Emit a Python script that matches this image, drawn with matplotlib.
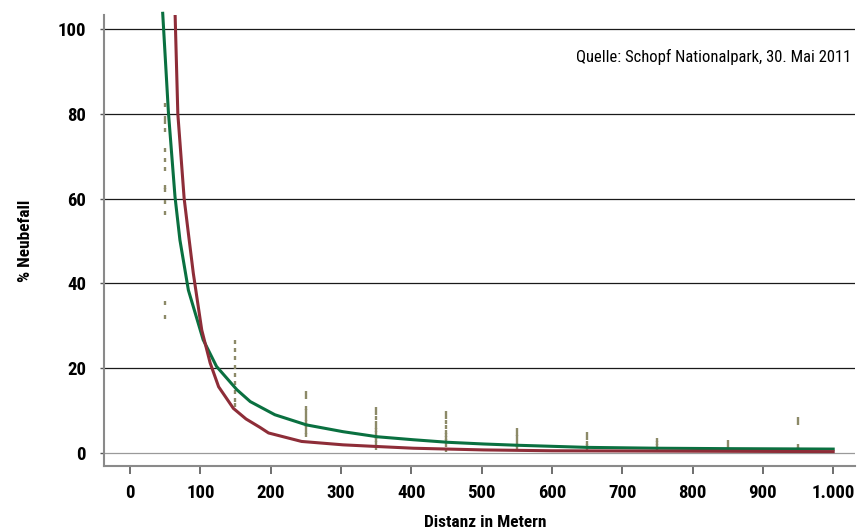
import matplotlib.pyplot as plt

# scatter measurements: distance classes and % new infestation
dist_50 = [82, 79, 78.1, 76.2, 71.5, 69.1, 67, 62.7, 62, 59.2, 56.6, 35.4, 32.1]
dist_150 = [26.2, 24.3, 22.4, 20.3, 18.4, 16.5, 14.4, 12.5, 11.3]
dist_250 = [14.2, 13.2, 10.6, 9.8, 9.0, 8.1, 7.3, 6.6, 5.9, 5.0, 4.2]
dist_350 = [10.3, 9.4, 8.2, 7.0, 6.2, 5.4, 4.6, 3.8, 3.0, 2.3, 1.1]
dist_450 = [9.4, 8.4, 7.4, 6.2, 5.0, 4.2, 3.5, 2.7, 1.9, 0.7]
dist_550 = [5.3, 4.5, 3.7, 2.7, 1.9, 1.1]
dist_650 = [4.4, 3.5, 2.4, 1.6, 0.9]
dist_750 = [3.1, 2.3, 1.6, 0.9]
dist_850 = [2.5, 1.7, 0.9]
dist_950 = [8.0, 7.0, 1.6, 0.9]
classes = [50, 150, 250, 350, 450, 550, 650, 750, 850, 950]
measured = [dist_50, dist_150, dist_250, dist_350, dist_450,
            dist_550, dist_650, dist_750, dist_850, dist_950]

# fitted curves
green_x = [46.5, 54.6, 64, 71, 83, 104, 123, 152, 171, 206, 251, 303, 352, 403, 452, 503, 551, 650, 750, 850, 1000]
green_y = [103.7, 80.4, 60.4, 50.2, 38.4, 26.7, 20.4, 14.9, 12.1, 9.0, 6.6, 5.0, 3.8, 3.1, 2.5, 2.1, 1.8, 1.3, 1.1, 1.0, 0.9]
red_x = [64, 68, 77, 83, 90, 102, 114, 126, 147, 165, 185, 197, 244, 303, 352, 403, 503, 600, 800, 1000]
red_y = [104.2, 80, 60, 51.8, 42.4, 29, 21.2, 15.6, 10.5, 8.0, 6.0, 4.7, 2.7, 1.9, 1.5, 1.1, 0.7, 0.5, 0.4, 0.3]

xticks = [0, 100, 200, 300, 400, 500, 600, 700, 800, 900, 1000]
xticklabels = ['0', '100', '200', '300', '400', '500', '600', '700', '800', '900', '1.000']
yticks = [0, 20, 40, 60, 80, 100]

plt.rcParams['font.family'] = ['Roboto Condensed', 'DejaVu Sans']

fig = plt.figure(figsize=(8.58, 5.32), dpi=100)
ax = fig.add_axes([0.1212, 0.124, 0.8753, 0.8478])

for yt in yticks:
    ax.axhline(yt, color='#9a9a9a' if yt == 0 else '#1a1a1a', lw=0.9, zorder=1)

for cx, vals in zip(classes, measured):
    ax.plot([cx] * len(vals), vals, ls='none', marker='|', ms=2.9, mew=1.7,
            color='#8c8a68', zorder=2)

ax.plot(green_x, green_y, color='#0a7040', lw=2.2, zorder=3, clip_on=False)
ax.plot(red_x, red_y, color='#8e2d38', lw=2.2, zorder=3)

ax.set_xlim(-37, 1031)
ax.set_ylim(-3.1, 103.3)
ax.set_xticks(xticks)
ax.set_xticklabels(xticklabels)
ax.set_yticks(yticks)

for s in ['top', 'right']:
    ax.spines[s].set_visible(False)
for s in ['left', 'bottom']:
    ax.spines[s].set_color('#8a8a8a')
    ax.spines[s].set_linewidth(1.5)

ax.tick_params(axis='x', direction='out', length=6, width=1.2, color='#555555', pad=7)
ax.tick_params(axis='y', direction='out', length=3, width=1.0, color='#555555', pad=10)
for lab in ax.get_xticklabels() + ax.get_yticklabels():
    lab.set_fontsize(13.5)
    lab.set_fontweight('bold')

ax.set_ylabel('% Neubefall', fontsize=12.5, fontweight='bold')
ax.yaxis.set_label_coords(-0.095, 0.5)
ax.set_xlabel('Distanz in Metern', fontsize=12.5, fontweight='bold')
ax.xaxis.set_label_coords(0.508, -0.108)

ax.text(0.995, 0.907, 'Quelle: Schopf Nationalpark, 30. Mai 2011', transform=ax.transAxes,
        ha='right', va='center', fontsize=12)

fig.savefig('out.png', dpi=100)
